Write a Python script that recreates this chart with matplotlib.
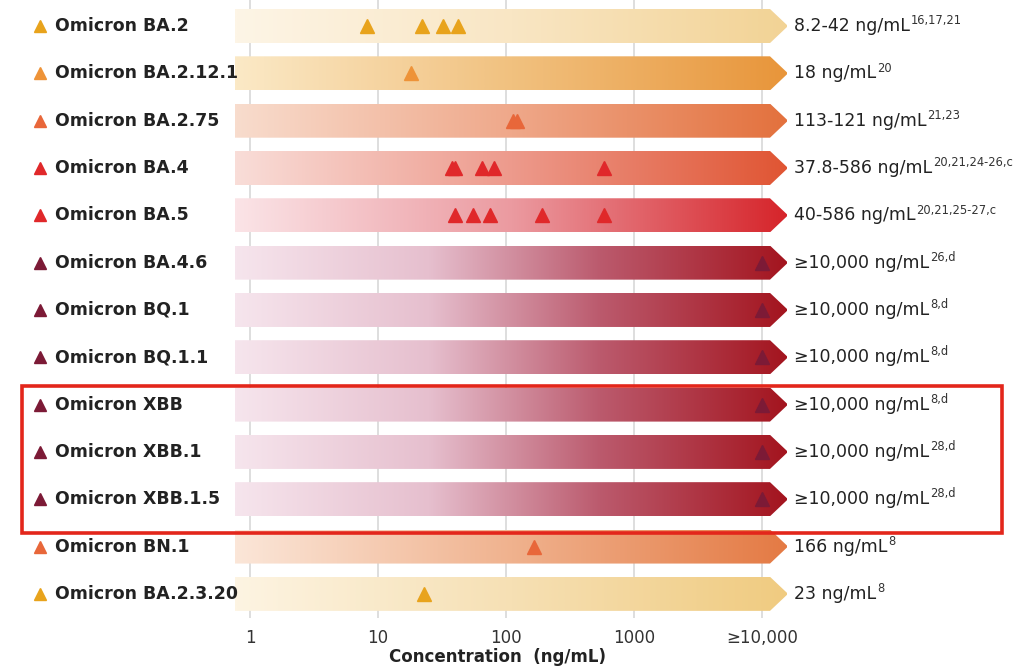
import numpy as np
import matplotlib
matplotlib.use("Agg")
import matplotlib.pyplot as plt
from matplotlib.colors import LinearSegmentedColormap
from matplotlib.patches import Polygon, Rectangle
from matplotlib.transforms import blended_transform_factory

# data
variants = ["Omicron BA.2", "Omicron BA.2.12.1", "Omicron BA.2.75", "Omicron BA.4",
            "Omicron BA.5", "Omicron BA.4.6", "Omicron BQ.1", "Omicron BQ.1.1",
            "Omicron XBB", "Omicron XBB.1", "Omicron XBB.1.5", "Omicron BN.1",
            "Omicron BA.2.3.20"]
ic50 = [[8.2, 22, 32, 42], [18], [113, 121], [37.8, 40, 65, 80, 586],
        [40, 55, 75, 190, 586], [10000], [10000], [10000], [10000], [10000],
        [10000], [166], [23]]
ranges = ["8.2-42 ng/mL", "18 ng/mL", "113-121 ng/mL", "37.8-586 ng/mL",
          "40-586 ng/mL", "≥10,000 ng/mL", "≥10,000 ng/mL", "≥10,000 ng/mL",
          "≥10,000 ng/mL", "≥10,000 ng/mL", "≥10,000 ng/mL", "166 ng/mL", "23 ng/mL"]
refs = ["16,17,21", "20", "21,23", "20,21,24-26,c", "20,21,25-27,c", "26,d", "8,d",
        "8,d", "8,d", "28,d", "28,d", "8", "8"]
ticks = [1, 10, 100, 1000, 10000]
tick_labels = ["1", "10", "100", "1000", "≥10,000"]

gold = "#e8a31c"
orange = "#ee9338"
orange_red = "#e8673a"
red = "#e0282a"
maroon = "#7c1a36"
marker_colors = [gold, orange, orange_red, red, red, maroon, maroon, maroon,
                 maroon, maroon, maroon, orange_red, gold]
dark = [(0, "#f6e5ed"), (0.35, "#e6bfce"), (0.66, "#bb5a6d"), (1, "#a3141e")]
bar_colors = [["#fdf5e6", "#f9e6c4", "#f2d395"],
              ["#fbe9c6", "#f1c17f", "#e8953a"],
              ["#f8dccd", "#efa88a", "#e3713d"],
              ["#f9ddd8", "#ed9a8c", "#e05533"],
              ["#fbe4e7", "#eb9aa0", "#d6242a"],
              dark, dark, dark, dark, dark, dark,
              ["#fbe6d8", "#f0b28e", "#e47a44"],
              ["#fdf4e2", "#f6e0b4", "#f0cb80"]]

W, H = 1020, 671
fig = plt.figure(figsize=(W / 100, H / 100), dpi=100)
ax = fig.add_axes([235 / W, 1 - 617.5 / H, 553 / W, 617.5 / H])
ax.set_xscale("log")

ytr = ax.get_yaxis_transform()
ftr = blended_transform_factory(fig.transFigure, ax.transData)
half = 0.36
body = 535 / 553

for i, name in enumerate(variants):
    verts = [(0, i - half), (body, i - half), (1, i), (body, i + half), (0, i + half)]
    poly = Polygon(verts, closed=True, transform=ytr, facecolor="none", edgecolor="none")
    ax.add_patch(poly)
    cmap = LinearSegmentedColormap.from_list("bar%d" % i, bar_colors[i])
    grad = np.linspace(0, 1, 256).reshape(1, -1)
    im = ax.imshow(grad, cmap=cmap, aspect="auto", extent=(0, 1, i + half, i - half),
                   transform=ytr, interpolation="bilinear", zorder=1)
    im.set_clip_path(poly)

    ax.plot(ic50[i], [i] * len(ic50[i]), marker="^", ls="none", ms=10,
            color=marker_colors[i], zorder=5)

    # row label on the left
    ax.plot([40 / W], [i], marker="^", ls="none", ms=9, color=marker_colors[i],
            transform=ftr, clip_on=False)
    ax.text(55 / W, i, name, transform=ftr, ha="left", va="center",
            fontsize=12.5, fontweight="bold", color="#222222")

    # value label on the right
    t = ax.text(794 / W, i, ranges[i], transform=ftr, ha="left", va="center",
                fontsize=12.5, color="#222222")
    ax.annotate(refs[i], xy=(1, 1), xycoords=t, xytext=(0.5, 2),
                textcoords="offset points", ha="left", va="top",
                fontsize=8.3, color="#333333")

ax.set_xlim(10 ** (-15 / 128), 10 ** (538 / 128))
ax.set_ylim(12.5, -0.55)
ax.set_xticks(ticks)
ax.set_xticklabels(tick_labels)
ax.minorticks_off()
ax.set_yticks([])
ax.tick_params(axis="x", length=0, pad=8, labelsize=12, labelcolor="#333333")
ax.grid(axis="x", color="#dedede", lw=1.4)
ax.set_axisbelow(True)
for s in ax.spines.values():
    s.set_visible(False)

fig.text(498 / W, 1 - 657 / H, "Concentration  (ng/mL)", ha="center", va="center",
         fontsize=12, fontweight="bold", color="#222222")

# highlight box around the XBB rows
fig.add_artist(Rectangle((22 / W, 1 - 533 / H), 980 / W, 147 / H, transform=fig.transFigure,
                         fill=False, edgecolor="#e3261b", lw=2.6))

fig.savefig("out.png", dpi=100)
